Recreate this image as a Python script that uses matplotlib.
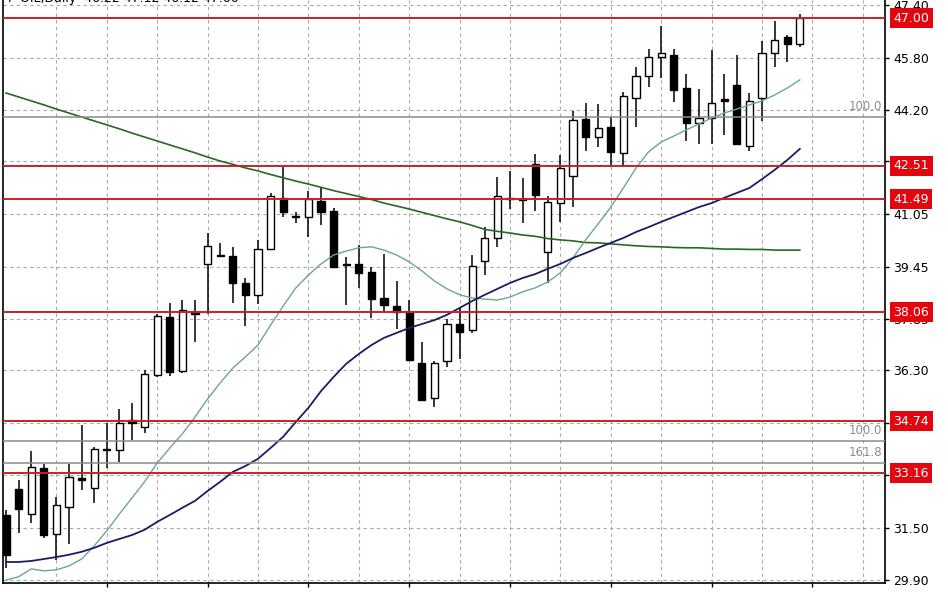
import numpy as np
from matplotlib import pyplot as plt
from matplotlib import transforms
from matplotlib.patches import Rectangle

TITLE = 'F-OIL,Daily  46.22 47.12 46.12 47.00'

opens = [31.89, 32.68, 31.92, 33.32, 31.31, 32.14, 33.02, 32.71, 33.87, 33.87,
         34.78, 34.57, 36.15, 37.92, 36.27, 38.07, 39.53, 39.80, 39.77, 38.95,
         38.59, 39.98, 41.54, 40.99, 40.96, 41.45, 41.14, 39.53, 39.53, 39.29,
         38.49, 38.25, 38.07, 36.52, 35.45, 36.58, 37.70, 37.52, 39.62, 40.32,
         41.54, 41.51, 42.57, 39.89, 41.38, 42.21, 43.94, 43.39, 43.70, 42.91,
         44.58, 45.25, 45.83, 45.89, 44.88, 43.82, 43.97, 44.55, 44.97, 43.12,
         44.58, 45.95, 46.43, 46.22]
highs = [32.04, 32.96, 33.84, 33.44, 32.44, 33.44, 34.63, 33.96, 34.69, 35.12,
         35.30, 36.30, 38.01, 38.34, 38.43, 38.43, 40.47, 40.17, 40.05, 39.10,
         40.26, 41.69, 42.48, 41.11, 41.75, 41.87, 41.23, 39.74, 40.11, 39.44,
         39.83, 39.01, 38.43, 37.16, 36.58, 37.86, 38.22, 39.80, 40.65, 42.18,
         42.36, 42.15, 42.87, 41.60, 42.84, 44.18, 44.43, 44.40, 44.00, 44.76,
         45.52, 46.07, 46.77, 46.07, 45.31, 44.85, 46.04, 45.31, 45.89, 44.73,
         46.31, 46.92, 46.50, 47.12]
lows = [30.28, 31.35, 31.65, 31.19, 30.52, 31.01, 32.65, 32.26, 33.32, 33.50,
        34.17, 34.39, 36.09, 36.12, 36.21, 37.16, 38.01, 39.74, 38.34, 37.64,
        38.31, 39.95, 40.96, 40.78, 40.35, 40.72, 39.41, 38.28, 38.80, 37.89,
        38.07, 37.55, 36.58, 35.36, 35.18, 36.40, 36.64, 37.43, 39.19, 40.05,
        41.20, 40.78, 41.14, 38.95, 40.81, 41.26, 42.97, 43.09, 42.54, 42.48,
        43.70, 44.91, 45.19, 44.46, 43.27, 43.18, 43.18, 43.45, 43.15, 42.97,
        43.88, 45.52, 45.67, 46.12]
closes = [30.68, 32.08, 33.35, 31.28, 32.20, 33.05, 32.96, 33.90, 33.90, 34.69,
          34.69, 36.18, 37.95, 36.24, 38.13, 38.01, 40.08, 39.77, 38.95, 38.59,
          39.98, 41.60, 41.11, 40.96, 41.51, 41.11, 39.44, 39.50, 39.26, 38.46,
          38.28, 38.07, 36.61, 35.39, 36.52, 37.70, 37.46, 39.47, 40.32, 41.60,
          41.51, 41.48, 41.63, 41.41, 42.45, 43.91, 43.39, 43.67, 42.94, 44.64,
          45.25, 45.83, 45.95, 44.82, 43.82, 43.97, 44.43, 44.49, 43.18, 44.49,
          45.95, 46.34, 46.22, 47.00]

ma_fast = [29.91, 30.01, 30.25, 30.19, 30.22, 30.34, 30.55, 30.95, 31.41, 31.92,
           32.41, 32.90, 33.47, 33.93, 34.36, 34.87, 35.42, 35.91, 36.36, 36.70,
           37.06, 37.67, 38.25, 38.80, 39.19, 39.53, 39.80, 39.92, 40.02, 40.05,
           39.95, 39.80, 39.59, 39.32, 39.01, 38.77, 38.59, 38.49, 38.46, 38.43,
           38.52, 38.68, 38.80, 38.98, 39.26, 39.71, 40.26, 40.75, 41.26, 41.84,
           42.45, 42.94, 43.24, 43.42, 43.61, 43.79, 43.97, 44.12, 44.24, 44.37,
           44.49, 44.67, 44.88, 45.13]
ma_mid = [30.46, 30.46, 30.49, 30.55, 30.61, 30.68, 30.77, 30.89, 31.04, 31.16,
          31.28, 31.44, 31.68, 31.89, 32.11, 32.32, 32.62, 32.90, 33.20, 33.38,
          33.60, 33.93, 34.27, 34.72, 35.15, 35.66, 36.09, 36.49, 36.79, 37.06,
          37.28, 37.43, 37.58, 37.70, 37.82, 37.98, 38.19, 38.40, 38.59, 38.77,
          38.95, 39.10, 39.22, 39.38, 39.53, 39.71, 39.86, 40.02, 40.17, 40.32,
          40.50, 40.65, 40.81, 40.96, 41.11, 41.26, 41.38, 41.54, 41.69, 41.84,
          42.11, 42.39, 42.69, 43.03]
ma_slow = [44.73, 44.61, 44.49, 44.37, 44.24, 44.12, 44.00, 43.88, 43.76, 43.64,
           43.51, 43.39, 43.27, 43.15, 43.03, 42.91, 42.78, 42.66, 42.56, 42.45,
           42.36, 42.25, 42.15, 42.05, 41.96, 41.86, 41.76, 41.67, 41.58, 41.49,
           41.38, 41.29, 41.20, 41.10, 41.00, 40.90, 40.81, 40.70, 40.58, 40.52,
           40.47, 40.41, 40.37, 40.30, 40.26, 40.23, 40.18, 40.17, 40.14, 40.11,
           40.08, 40.06, 40.05, 40.03, 40.02, 40.02, 40.00, 39.98, 39.98, 39.97,
           39.97, 39.95, 39.95, 39.95]

red_levels = [47.00, 42.51, 41.49, 38.06, 34.74, 33.16]
fib_levels = [44.00, 34.15, 33.48]
fib_labels = ['100.0', '100.0', '161.8']
price_ticks = [29.90, 31.50, 33.10, 34.70, 36.30, 37.85, 39.45, 41.05, 42.65, 44.20, 45.80, 47.40]


def draw_candles(ax):
    width = 0.56
    for i, (o, h, l, c) in enumerate(zip(opens, highs, lows, closes)):
        ax.plot([i, i], [l, h], color='black', lw=1.1, zorder=3, solid_capstyle='butt')
        bottom = min(o, c)
        height = max(abs(c - o), 0.03)
        face = 'white' if c >= o else 'black'
        ax.add_patch(Rectangle((i - width / 2, bottom), width, height,
                               facecolor=face, edgecolor='black', lw=1.0, zorder=4))


def main():
    plt.rcParams['font.family'] = 'DejaVu Sans'
    fig = plt.figure(figsize=(9.48, 5.93), dpi=100)
    ax = fig.add_axes([3 / 948, 10 / 593, 882 / 948, 583 / 593])

    ax.set_xlim(-0.238, 69.76)
    ax.set_ylim(29.82, 47.56)

    # grid
    ax.set_xticks(np.arange(8, 70, 8))
    ax.set_xticks(np.arange(4, 70, 8), minor=True)
    ax.set_yticks(price_ticks)
    ax.set_yticklabels([f'{t:.2f}' for t in price_ticks])
    ax.grid(True, which='both', ls=(0, (3, 3)), color='#a9a9a9', lw=0.8, zorder=0)
    ax.set_axisbelow(True)

    ax.tick_params(axis='x', which='major', length=3, width=1, labelbottom=False)
    ax.tick_params(axis='x', which='minor', length=0)
    ax.yaxis.tick_right()
    ax.tick_params(axis='y', length=3, width=1, pad=3, labelsize=9, colors='black')
    ax.spines['top'].set_visible(False)
    for side in ['left', 'right', 'bottom']:
        ax.spines[side].set_linewidth(1.2)

    draw_candles(ax)

    idx = np.arange(len(closes))
    ax.plot(idx, ma_slow, color='#236b23', lw=1.2, zorder=5)
    ax.plot(idx, ma_fast, color='#6aa890', lw=1.0, zorder=5)
    ax.plot(idx, ma_mid, color='#1c1c66', lw=1.3, zorder=5)

    trans = transforms.blended_transform_factory(ax.transAxes, ax.transData)
    for level, label in zip(fib_levels, fib_labels):
        ax.axhline(level, color='#8c8c8c', lw=1.1, zorder=5)
        ax.text(0.997, level + 0.12, label, transform=trans, ha='right', va='bottom',
                fontsize=8.5, color='#8c8c8c', zorder=6)

    for level in red_levels:
        ax.axhline(level, color='#c8202a', lw=1.4, zorder=6)
        ax.text(1.0095, level, f'{level:.2f}', transform=trans, ha='left', va='center',
                fontsize=9, color='white', zorder=7, clip_on=False,
                bbox=dict(boxstyle='square,pad=0.28', fc='#e3060f', ec='none'))

    fig.text(8 / 948, 1 - 5 / 593, TITLE, ha='left', va='bottom', fontsize=9, color='black')

    plt.savefig('out.png', dpi=100)


if __name__ == '__main__':
    main()
